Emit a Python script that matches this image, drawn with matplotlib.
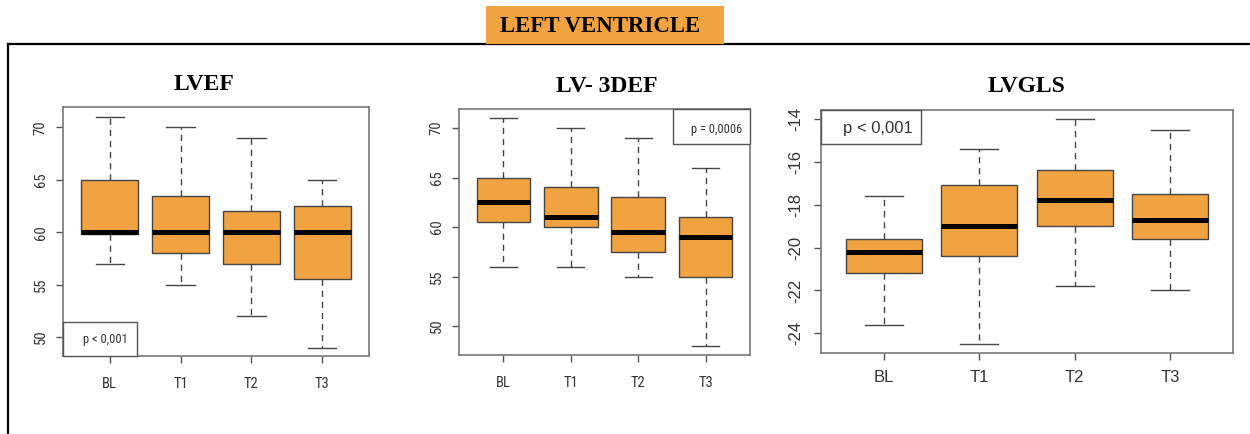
import matplotlib
matplotlib.use("Agg")
import matplotlib.pyplot as plt
from matplotlib.patches import Rectangle
from matplotlib.lines import Line2D

# ---- data ----
groups = ["BL", "T1", "T2", "T3"]

lvef_whislo = [57, 55, 52, 49]
lvef_q1 = [59.8, 58, 57, 55.5]
lvef_med = [60, 60, 60, 60]
lvef_q3 = [65, 63.5, 62, 62.5]
lvef_whishi = [71, 70, 69, 65]

lv3d_whislo = [56, 56, 55, 48]
lv3d_q1 = [60.5, 60, 57.5, 55]
lv3d_med = [62.5, 61, 59.5, 59]
lv3d_q3 = [65, 64, 63, 61]
lv3d_whishi = [71, 70, 69, 66]

gls_whislo = [-23.6, -24.5, -21.8, -22.0]
gls_q1 = [-21.2, -20.4, -19.0, -19.6]
gls_med = [-20.2, -19.0, -17.8, -18.7]
gls_q3 = [-19.6, -17.1, -16.4, -17.5]
gls_whishi = [-17.6, -15.4, -14.0, -14.5]

titles = ["LVEF", "LV- 3DEF", "LVGLS"]
pvals = ["p < 0,001", "p = 0,0006", "p < 0,001"]
yticks_list = [[50, 55, 60, 65, 70], [50, 55, 60, 65, 70], [-24, -22, -20, -18, -16, -14]]
header = "LEFT VENTRICLE"

W, H = 1250, 434
ORANGE = "#F2A341"
fig = plt.figure(figsize=(W / 100, H / 100), dpi=100)
fig.patch.set_facecolor("white")

def px_rect(x0, y0, x1, y1):
    return [x0 / W, (H - y1) / H, (x1 - x0) / W, (y1 - y0) / H]

narrow = ["Roboto Condensed", "Liberation Sans", "DejaVu Sans"]
sans = ["Liberation Sans", "DejaVu Sans"]
serif = ["Liberation Serif", "DejaVu Serif"]

# outer frame lines
fig.add_artist(Line2D([8 / W, 8 / W], [0, (H - 44) / H], transform=fig.transFigure, color="black", lw=1.6))
fig.add_artist(Line2D([8 / W, 1.0], [(H - 44) / H, (H - 44) / H], transform=fig.transFigure, color="black", lw=1.6))
# header box
fig.add_artist(Rectangle((486 / W, (H - 44) / H), (724 - 486) / W, 38 / H, transform=fig.transFigure,
                         facecolor=ORANGE, edgecolor="none", zorder=3))
fig.text(600 / W, (H - 26) / H, header, ha="center", va="center", family=serif,
         fontweight="bold", fontsize=16.5, color="black", zorder=4)

panels = [
    dict(rect=px_rect(63, 107, 369, 356), ylim=(48.2, 71.95),
         data=(lvef_whislo, lvef_q1, lvef_med, lvef_q3, lvef_whishi),
         title_xy=(204, 84), fs=10.5, tfs=9, fam=narrow,
         pbox=(0, 0, 0.242, 0.137), ptext=(105, 340)),
    dict(rect=px_rect(459, 109, 750, 355), ylim=(47.08, 71.92),
         data=(lv3d_whislo, lv3d_q1, lv3d_med, lv3d_q3, lv3d_whishi),
         title_xy=(607, 87), fs=10.5, tfs=9, fam=narrow,
         pbox=(0.735, 0.858, 0.265, 0.142), ptext=(717, 130)),
    dict(rect=px_rect(821, 110, 1233, 353), ylim=(-24.92, -13.58),
         data=(gls_whislo, gls_q1, gls_med, gls_q3, gls_whishi),
         title_xy=(1026, 87), fs=12, tfs=12, fam=sans,
         pbox=(0, 0.86, 0.243, 0.14), ptext=(878, 128)),
]

for i, p in enumerate(panels):
    ax = fig.add_axes(p["rect"])
    lo, q1, med, q3, hi = p["data"]
    stats = [dict(whislo=lo[k], q1=q1[k], med=med[k], q3=q3[k], whishi=hi[k], fliers=[], label=groups[k])
             for k in range(len(groups))]
    ax.bxp(stats, positions=range(1, len(groups) + 1), widths=0.8, capwidths=0.4,
           patch_artist=True, showfliers=False,
           boxprops=dict(facecolor=ORANGE, edgecolor="#444444", linewidth=1.0),
           medianprops=dict(color="black", linewidth=3.6, solid_capstyle="butt"),
           whiskerprops=dict(color="#444444", linewidth=1.0, linestyle=(0, (4.5, 3.5))),
           capprops=dict(color="#444444", linewidth=1.0))
    ax.set_xlim(0.34, 4.66)
    ax.set_ylim(*p["ylim"])
    ax.set_yticks(yticks_list[i])
    ax.set_yticklabels([str(v) for v in yticks_list[i]], rotation=90, va="center",
                       family=p["fam"], fontsize=p["fs"], color="#333333")
    ax.set_xticks(range(1, len(groups) + 1))
    ax.set_xticklabels(groups, family=p["fam"], fontsize=p["fs"], color="#333333")
    ax.tick_params(axis="x", length=5, width=1, color="#555555", pad=10 if i < 2 else 7)
    ax.tick_params(axis="y", length=5, width=1, color="#555555", pad=6 if i < 2 else 8)
    for s in ax.spines.values():
        s.set_color("#777777")
        s.set_linewidth(1.2)
    bx, by, bw, bh = p["pbox"]
    ax.add_patch(Rectangle((bx, by), bw, bh, transform=ax.transAxes, facecolor="white",
                           edgecolor="#555555", linewidth=1.0, zorder=5, clip_on=False))
    fig.text(p["ptext"][0] / W, (H - p["ptext"][1]) / H, pvals[i], ha="center", va="center",
             family=p["fam"], fontsize=p["tfs"], color="#333333", zorder=6)
    fig.text(p["title_xy"][0] / W, (H - p["title_xy"][1]) / H, titles[i], ha="center", va="center",
             family=serif, fontweight="bold", fontsize=17, color="black")

fig.savefig("out.png", dpi=100, facecolor="white")
